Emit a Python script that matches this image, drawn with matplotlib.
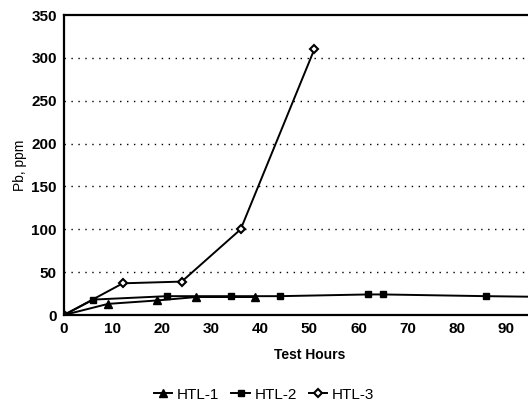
import matplotlib.pyplot as plt

plt.rcParams['font.family'] = ['Liberation Sans', 'DejaVu Sans']

# lead pickup vs test time
htl1_hours = [0, 9, 19, 27, 39]
htl1_pb = [0, 13, 17, 21, 21]
htl2_hours = [0, 6, 21, 34, 44, 62, 65, 86, 100]
htl2_pb = [0, 18, 22, 22, 22, 24, 24, 22, 21]
htl3_hours = [0, 12, 24, 36, 51]
htl3_pb = [0, 37, 39, 100, 310]

x_ticks = [0, 10, 20, 30, 40, 50, 60, 70, 80, 90]
y_ticks = [0, 50, 100, 150, 200, 250, 300, 350]

fig = plt.figure(figsize=(5.28, 4.07), dpi=100)
ax = fig.add_axes([0.121, 0.226, 0.93, 0.737])

ax.plot(htl1_hours, htl1_pb, color='black', lw=1.4, marker='^', ms=6, label='HTL-1')
ax.plot(htl2_hours, htl2_pb, color='black', lw=1.4, marker='s', ms=5, label='HTL-2')
ax.plot(htl3_hours, htl3_pb, color='black', lw=1.4, marker='D', ms=4.5,
        mfc='white', mew=1.5, label='HTL-3')

ax.set_xlim(0, 100)
ax.set_ylim(0, 350)
ax.set_xticks(x_ticks)
ax.set_yticks(y_ticks)
ax.tick_params(length=0, labelsize=11, pad=5)
for lbl in ax.get_xticklabels() + ax.get_yticklabels():
    lbl.set_fontweight('bold')

for y in y_ticks[1:-1]:
    ax.axhline(y, color='black', lw=1, ls=(0, (1, 4)), zorder=0)

for s in ax.spines.values():
    s.set_linewidth(1.6)

ax.set_xlabel('Test Hours', fontsize=10, fontweight='bold', labelpad=9)
ax.set_ylabel('Pb, ppm', fontsize=10, labelpad=3)

handles, labels = ax.get_legend_handles_labels()
fig.legend(handles, labels, loc='center', bbox_to_anchor=(0.5, 0.03), ncol=3,
           frameon=False, fontsize=11, handlelength=1.2, handletextpad=0.3,
           columnspacing=0.8)

fig.savefig('out.png')
